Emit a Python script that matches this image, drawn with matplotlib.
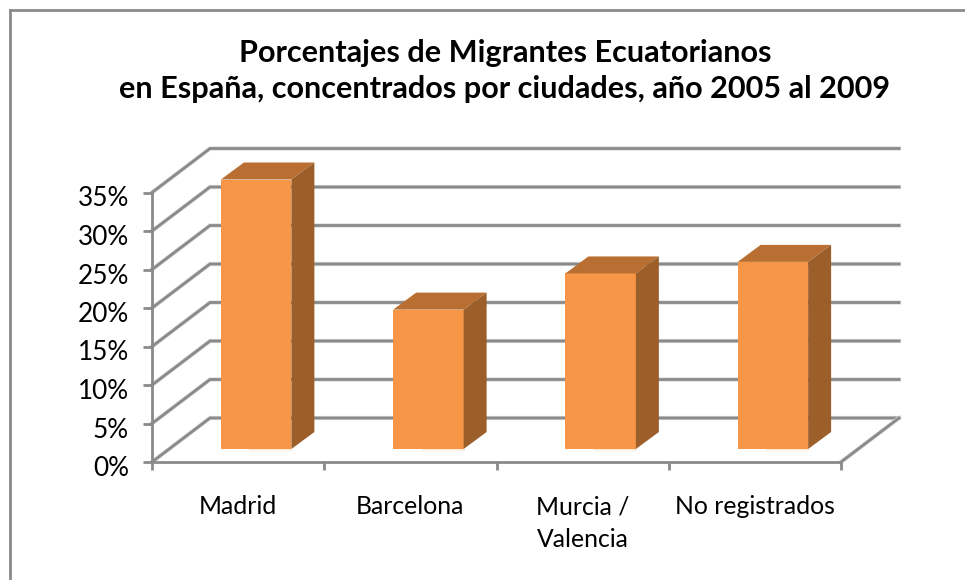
import matplotlib
matplotlib.use("Agg")
import matplotlib.pyplot as plt
import matplotlib.patheffects as pe
from matplotlib.patches import Polygon
from matplotlib.transforms import ScaledTranslation

plt.rcParams['font.family'] = ['Lato', 'DejaVu Sans']

ciudades = ["Madrid", "Barcelona", "Murcia /\nValencia", "No registrados"]
porcentajes = [35.0, 18.1, 22.8, 24.3]
ticks = [0, 5, 10, 15, 20, 25, 30, 35]
tick_labels = ["0%", "5%", "10%", "15%", "20%", "25%", "30%", "35%"]
titulo = "Porcentajes de Migrantes Ecuatorianos\nen España, concentrados por ciudades, año 2005 al 2009"

W, H = 965, 580
GRIS = "#8a8a8a"
LW = 2.0
halo = [pe.withStroke(linewidth=LW + 1.0, foreground="#d8d8d8")]

fig = plt.figure(figsize=(W / 100, H / 100), dpi=100)
# plot area in pixels: x 152-841, y 462-193
ax = fig.add_axes([152 / W, 1 - 462 / H, 689 / W, 269.5 / H])
ax.set_xlim(0, 4)
ax.set_ylim(0, 35)
ax.patch.set_visible(False)
for s in ["top", "right"]:
    ax.spines[s].set_visible(False)
for s in ["left", "bottom"]:
    ax.spines[s].set_color(GRIS)
    ax.spines[s].set_linewidth(LW)

# depth of the fake 3d box, in data units
prof_x = 58 / 172.25
prof_y = 44 / 7.7

# walls and floor
for v in ticks:
    ax.plot([0, prof_x, 4 + prof_x], [v, v + prof_y, v + prof_y], color=GRIS, lw=LW,
            clip_on=False, zorder=1, solid_joinstyle="miter", path_effects=halo)
ax.plot([4, 4 + prof_x], [0, prof_y], color=GRIS, lw=LW, clip_on=False, zorder=1, path_effects=halo)

# bars
ancho = 70.5 / 172.25
off_x = 18 / 172.25 + 0.5
off_y = 13 / 7.7
bar_dx = 23 / 172.25
bar_dy = 17 / 7.7
for i, v in enumerate(porcentajes):
    x0 = i + off_x - ancho / 2
    x1 = x0 + ancho
    y1 = v + off_y
    ax.bar(x0, v, width=ancho, bottom=off_y, align="edge", color="#f79646", zorder=3, clip_on=False)
    ax.add_patch(Polygon([(x0, y1), (x1, y1), (x1 + bar_dx, y1 + bar_dy), (x0 + bar_dx, y1 + bar_dy)],
                         closed=True, fc="#b96f32", ec="none", zorder=3, clip_on=False))
    ax.add_patch(Polygon([(x1, off_y), (x1, y1), (x1 + bar_dx, y1 + bar_dy), (x1 + bar_dx, off_y + bar_dy)],
                         closed=True, fc="#9c5f2a", ec="none", zorder=3, clip_on=False))
    # pale glint at the foot of the bar
    ax.plot([x0 + ancho * 0.42, x1], [off_y - 0.15, off_y - 0.15], color="#fdeee0", lw=1.6,
            zorder=2, clip_on=False)

ax.set_yticks(ticks)
ax.set_yticklabels(tick_labels)
ax.set_xticks([0, 1, 2, 3, 4])
ax.set_xticklabels([])
ax.set_xticks([0.5, 1.5, 2.5, 3.5], minor=True)
ax.set_xticklabels(ciudades, minor=True, linespacing=1.5)
ax.tick_params(axis="y", length=6.5, width=LW, color=GRIS, labelsize=18.8, pad=10, labelcolor="black")
ax.tick_params(axis="x", which="major", length=6, width=LW, color=GRIS)
ax.tick_params(axis="x", which="minor", length=0, labelsize=17.8, pad=24, labelcolor="black")
# labels sit a touch below their tick in the original
for lab in ax.get_yticklabels():
    lab.set_transform(lab.get_transform() + ScaledTranslation(0, -0.04, fig.dpi_scale_trans))

fig.text(505 / W, 1 - 71 / H, titulo, ha="center", va="center", fontsize=22.1, fontweight="bold",
         linespacing=1.34)

# chart border, only left and top show
fig.add_artist(plt.Line2D([10 / W, 10 / W], [0, 1 - 10 / H], color=GRIS, lw=LW))
fig.add_artist(plt.Line2D([10 / W, 1], [1 - 10 / H, 1 - 10 / H], color=GRIS, lw=LW))

fig.savefig("out.png", dpi=100)
